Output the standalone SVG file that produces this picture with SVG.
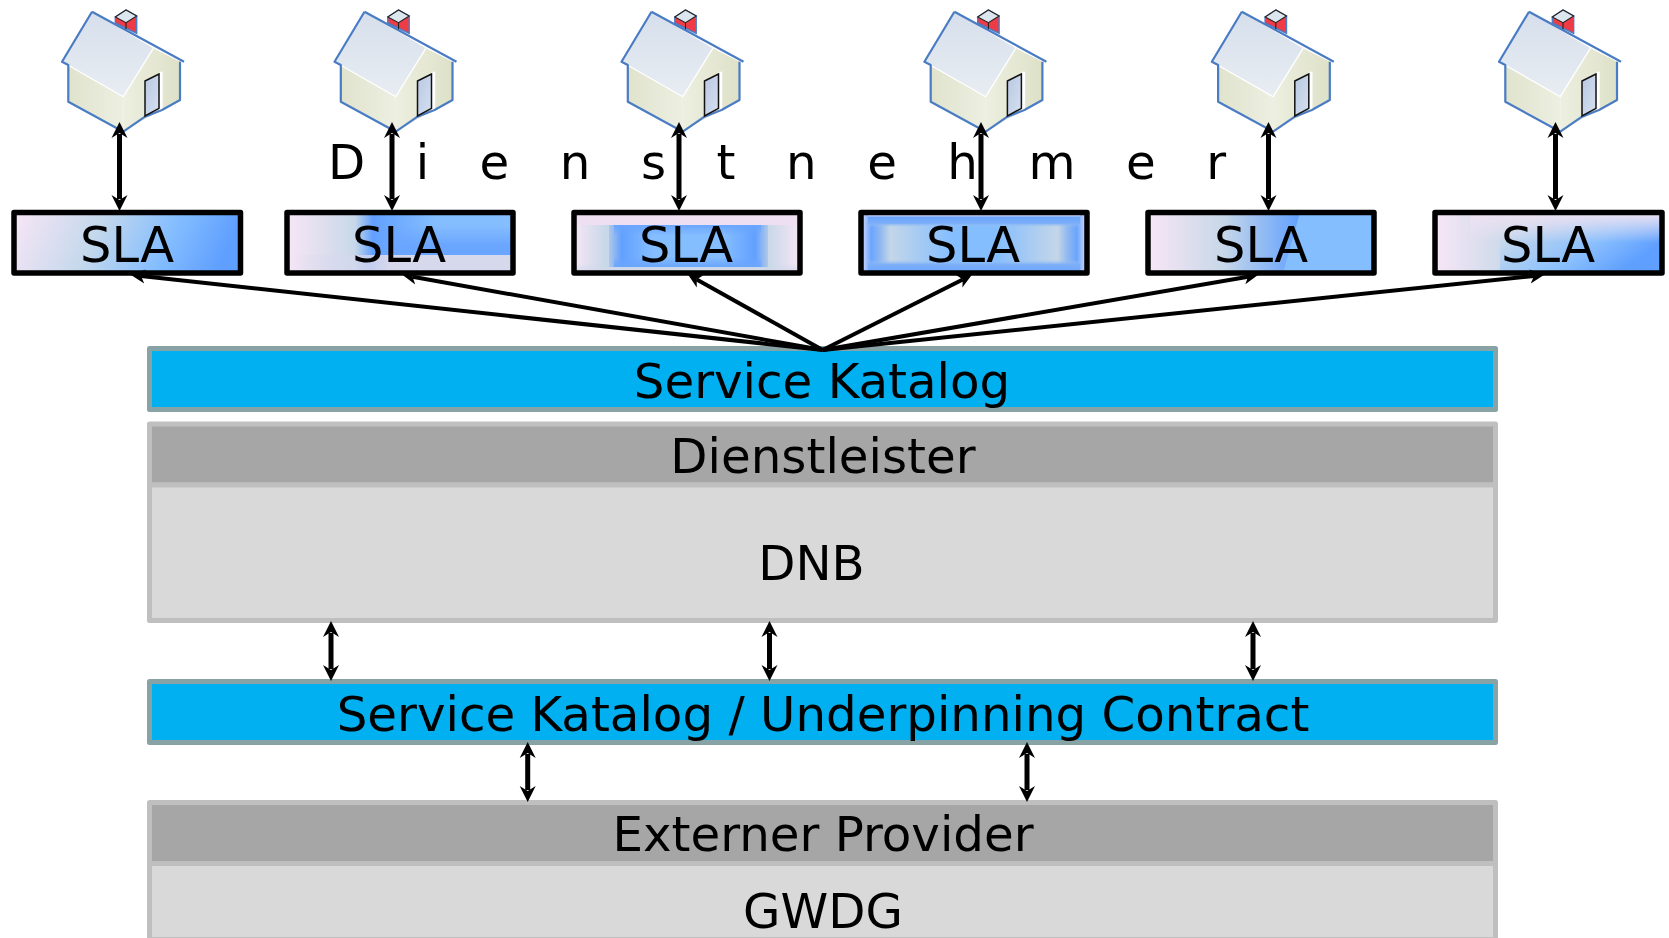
<svg xmlns="http://www.w3.org/2000/svg" width="1669" height="938" viewBox="0 0 1669 938">
<style>
text{font-family:"DejaVu Sans",Verdana,sans-serif;font-size:48.3px;fill:#000;text-anchor:middle}
.sla{font-size:49.5px}
.frame{fill:none;stroke:#000;stroke-width:5.5;stroke-linejoin:round}
.blue{fill:#00B0F0;stroke:#87A3A6;stroke-width:5;stroke-linejoin:round}
.dark{fill:#A6A6A6;stroke:#BFBFBF;stroke-width:5;stroke-linejoin:round}
.light{fill:#D9D9D9;stroke:#BFBFBF;stroke-width:5;stroke-linejoin:round}
.big{fill:none;stroke:#000;stroke-width:5;marker-start:url(#hd);marker-end:url(#hd)}
.fan{fill:none;stroke:#000;stroke-width:4;marker-end:url(#hf)}
</style>
<defs>
<marker id="hd" markerUnits="userSpaceOnUse" markerWidth="16" markerHeight="17" refX="4" refY="8.500" orient="auto-start-reverse"><path d="M16,8.500L0,0.500L5,8.500L0,16.500Z" fill="#000"/></marker>
<marker id="hf" markerUnits="userSpaceOnUse" markerWidth="14" markerHeight="15" refX="4" refY="7.500" orient="auto"><path d="M14,7.500L0,0.500L4,7.500L0,14.500Z" fill="#000"/></marker>
<linearGradient id="g1" x1="0" y1="0" x2="1" y2="0.12"><stop offset="0" stop-color="#F8E6F6"/><stop offset=".4" stop-color="#C4D8EC"/><stop offset=".72" stop-color="#85BEFF"/><stop offset="1" stop-color="#5F9FFF"/></linearGradient>
<linearGradient id="g2" x1="0" x2="1" y1="0" y2="0"><stop offset="0" stop-color="#F8E6F6"/><stop offset=".3" stop-color="#C8D8E8"/><stop offset=".38" stop-color="#62A0FF"/><stop offset=".66" stop-color="#85BEFF"/><stop offset="1" stop-color="#85BEFF"/></linearGradient>
<linearGradient id="g2b" x1="0" x2="0" y1="0" y2="1"><stop offset="0" stop-color="#6AA5FF" stop-opacity="0"/><stop offset=".7" stop-color="#6AA5FF"/><stop offset="1" stop-color="#6AA5FF"/></linearGradient>
<linearGradient id="g2c" x1="0" x2="1" y1="0" y2="0"><stop offset="0" stop-color="#D8D8EE" stop-opacity="0"/><stop offset=".45" stop-color="#D6D8EC"/><stop offset="1" stop-color="#D6D8EC"/></linearGradient>
<linearGradient id="g3" x1="0" x2="1" y1="0" y2="0"><stop offset="0" stop-color="#F6E6F6"/><stop offset=".14" stop-color="#C8D8E8"/><stop offset=".86" stop-color="#C8D8E8"/><stop offset="1" stop-color="#F6E6F6"/></linearGradient>
<linearGradient id="g3b" x1="0" x2="1" y1="0" y2="0"><stop offset="0" stop-color="#B0C8E8"/><stop offset=".08" stop-color="#62A0FF"/><stop offset=".28" stop-color="#85BEFF"/><stop offset=".72" stop-color="#85BEFF"/><stop offset=".92" stop-color="#62A0FF"/><stop offset="1" stop-color="#B0C8E8"/></linearGradient>
<linearGradient id="g3c" x1="0" x2="0" y1="0" y2="1"><stop offset="0" stop-color="#6AA5FF"/><stop offset=".25" stop-color="#6AA5FF" stop-opacity="0"/><stop offset=".75" stop-color="#6AA5FF" stop-opacity="0"/><stop offset="1" stop-color="#6AA5FF"/></linearGradient>
<linearGradient id="g3d" x1="0" x2="0" y1="0" y2="1"><stop offset="0" stop-color="#EEE0F2"/><stop offset=".2" stop-color="#EEE0F2"/><stop offset=".21" stop-color="#C8D8E8" stop-opacity="0"/><stop offset=".85" stop-color="#C8D8E8" stop-opacity="0"/><stop offset="1" stop-color="#DCD8EE"/></linearGradient>
<linearGradient id="g4" x1="0" x2="1" y1="0" y2="0"><stop offset="0" stop-color="#DCDCFA"/><stop offset=".045" stop-color="#6AA5FF"/><stop offset=".085" stop-color="#8FB8F0"/><stop offset=".13" stop-color="#C4D6E8"/><stop offset=".4" stop-color="#85BEFF"/><stop offset=".6" stop-color="#85BEFF"/><stop offset=".87" stop-color="#C4D6E8"/><stop offset=".915" stop-color="#8FB8F0"/><stop offset=".955" stop-color="#6AA5FF"/><stop offset="1" stop-color="#DCDCFA"/></linearGradient>
<linearGradient id="g4b" x1="0" x2="0" y1="0" y2="1"><stop offset=".04" stop-color="#E6E0F6"/><stop offset=".08" stop-color="#6AA5FF"/><stop offset=".18" stop-color="#7DAFF8"/><stop offset=".24" stop-color="#A0C4F0" stop-opacity="0"/><stop offset=".78" stop-color="#A0C4F0" stop-opacity="0"/><stop offset=".86" stop-color="#7DAFF8"/><stop offset="1" stop-color="#6AA5FF"/></linearGradient>
<linearGradient id="g5" x1="0" x2="1" y1="0" y2="0"><stop offset="0" stop-color="#F8E6F6"/><stop offset=".33" stop-color="#C8D8E8"/><stop offset=".68" stop-color="#5F9FFF"/><stop offset="1" stop-color="#5F9FFF"/></linearGradient>
<linearGradient id="g6" x1="0" x2="1" y1="0" y2="0"><stop offset="0" stop-color="#F8E6F6"/><stop offset=".3" stop-color="#CCDAEA"/><stop offset="1" stop-color="#BCD2EC"/></linearGradient>
<linearGradient id="g6b" gradientUnits="userSpaceOnUse" x1="1545" y1="205" x2="1600" y2="285"><stop offset="0" stop-color="#85BEFF" stop-opacity="0"/><stop offset=".6" stop-color="#85BEFF" stop-opacity=".9"/><stop offset="1" stop-color="#5F9FFF"/></linearGradient>
<linearGradient id="g6c" x1="0" x2="0" y1="0" y2="1"><stop offset="0" stop-color="#EEE2F2"/><stop offset="1" stop-color="#EEE2F2" stop-opacity="0"/></linearGradient>
<linearGradient id="roof" x1="0" x2="0" y1="0" y2="1"><stop offset="0" stop-color="#D6DFEC"/><stop offset="1" stop-color="#E8EDF2"/></linearGradient>
<linearGradient id="wallL" x1="0" x2="1" y1="0" y2="0"><stop offset="0" stop-color="#E0E3CC"/><stop offset="1" stop-color="#EDEFE2"/></linearGradient>
<linearGradient id="wallR" x1="0" x2="1" y1="0" y2="0"><stop offset="0" stop-color="#EDEFE0"/><stop offset="1" stop-color="#DEE1C8"/></linearGradient>
<linearGradient id="door" x1="0" x2="1" y1="0" y2="1"><stop offset="0" stop-color="#B8C8E2"/><stop offset="1" stop-color="#D6E0F0"/></linearGradient>
<g id="house">
<path d="M68.300 65L123.300 96.700L123.300 131.700L68.300 101.700Z" fill="url(#wallL)"/>
<path d="M123.300 96.700L153.300 48.300L180 61.700L180 100L162 110L145 119L123.300 131.700Z" fill="url(#wallR)"/>
<path d="M92 11.700L153.300 48.300L123.300 96.700L62 61.700Z" fill="url(#roof)"/>
<path d="M62 61.700L123.300 96.700L153.300 48.300" fill="none" stroke="#fff" stroke-width="1.300"/>
<path d="M92 11.700L184 61.700M92 11.700L62 61.700L68.300 65L68.300 101.700L123.300 131.700L145 116.700L162 110L180 100L180 61.700" fill="none" stroke="#4A7CC4" stroke-width="2.200" stroke-linejoin="round"/>
<path d="M159 71.700L162.700 71.700L162.700 108.300L159 110Z" fill="#fff"/>
<path d="M145 81L159 74L159 108.300L145 116Z" fill="url(#door)" stroke="#111" stroke-width="1.500"/>
<path d="M115.300 17L126 10L136.700 16L136.700 33.300L115.300 23Z" fill="#EE3B45" stroke="#4A7CC4" stroke-width="1.400"/>
<path d="M115.300 17L126 10L136.700 16L126 22.700Z" fill="#DCE6EE" stroke="#222" stroke-width="1.100"/>
<path d="M126 22.700L126 29.300" stroke="#222" stroke-width="1.100" fill="none"/>
</g>
</defs>
<rect width="1669" height="938" fill="#fff"/>
<g id="houses">
<use id="house-1" href="#house"/>
<use id="house-2" href="#house" x="272.500"/>
<use id="house-3" href="#house" x="559.500"/>
<use id="house-4" href="#house" x="862.400"/>
<use id="house-5" href="#house" x="1149.800"/>
<use id="house-6" href="#house" x="1437"/>
</g>
<g id="dienstnehmer"><text x="328" y="179" style="text-anchor:start;letter-spacing:50.500px">Dienstnehmer</text></g>
<g id="sla-1"><rect x="14" y="212.500" width="226.500" height="60.500" fill="url(#g1)"/><rect x="14" y="212.500" width="226.500" height="60.500" class="frame"/><text class="sla" x="127" y="262">SLA</text></g>
<g id="sla-2"><rect x="287" y="212.500" width="226" height="60.500" fill="url(#g2)"/><rect x="392" y="225" width="121" height="30" fill="url(#g2b)"/><rect x="287" y="255" width="226" height="18" fill="url(#g2c)"/><rect x="287" y="212.500" width="226" height="60.500" class="frame"/><text class="sla" x="399" y="262">SLA</text></g>
<g id="sla-3"><rect x="574" y="212.500" width="226" height="60.500" fill="url(#g3)"/><rect x="574" y="212.500" width="226" height="60.500" fill="url(#g3d)"/><rect x="609" y="225" width="159" height="42" fill="url(#g3b)"/><rect x="614" y="225" width="147" height="42" fill="url(#g3c)"/><rect x="574" y="212.500" width="226" height="60.500" class="frame"/><text class="sla" x="686" y="262">SLA</text></g>
<g id="sla-4"><rect x="861" y="212.500" width="226" height="60.500" fill="url(#g4)"/><rect x="868" y="212.500" width="212" height="60.500" fill="url(#g4b)"/><rect x="861" y="212.500" width="226" height="60.500" class="frame"/><text class="sla" x="973" y="262">SLA</text></g>
<g id="sla-5"><rect x="1148" y="212.500" width="226" height="60.500" fill="url(#g5)"/><path d="M1300 212.500L1283 273L1374 273L1374 212.500Z" fill="#85BEFF"/><rect x="1148" y="212.500" width="226" height="60.500" class="frame"/><text class="sla" x="1261" y="262">SLA</text></g>
<g id="sla-6"><rect x="1435" y="212.500" width="227" height="60.500" fill="url(#g6)"/><rect x="1500" y="212.500" width="162" height="60.500" fill="url(#g6b)"/><rect x="1470" y="212.500" width="192" height="30" fill="url(#g6c)"/><rect x="1435" y="212.500" width="227" height="60.500" class="frame"/><text class="sla" x="1548" y="262">SLA</text></g>
<g id="service-katalog"><rect x="149.500" y="348.500" width="1346" height="61" class="blue"/><text x="822" y="398">Service Katalog</text></g>
<g id="dienstleister"><rect x="149.500" y="424" width="1346" height="61" class="dark"/><text x="823" y="473">Dienstleister</text></g>
<g id="dnb"><rect x="149.500" y="485" width="1346" height="135.500" class="light"/><text x="811.500" y="580">DNB</text></g>
<g id="service-katalog-uc"><rect x="149.500" y="681.500" width="1346" height="61" class="blue"/><text x="823" y="731">Service Katalog / Underpinning Contract</text></g>
<g id="externer-provider"><rect x="149.500" y="802.500" width="1346" height="61" class="dark"/><text x="823" y="851">Externer Provider</text></g>
<g id="gwdg"><rect x="149.500" y="863.500" width="1346" height="76" class="light"/><text x="823" y="928">GWDG</text></g>
<g id="connectors">
<path class="big" d="M119.500 134V199"/>
<path class="big" d="M392 134V199"/>
<path class="big" d="M679 134V199"/>
<path class="big" d="M981 134V199"/>
<path class="big" d="M1268.500 134V199"/>
<path class="big" d="M1555.500 134V199"/>
<path class="fan" d="M822.700 350L141 276.100"/>
<path class="fan" d="M822.700 350L412.500 276.800"/>
<path class="fan" d="M822.700 350L696.700 279.400"/>
<path class="fan" d="M822.700 350L962.800 279.500"/>
<path class="fan" d="M822.700 350L1248.100 276.700"/>
<path class="fan" d="M822.700 350L1534 276"/>
<path class="big" d="M331 633V669"/>
<path class="big" d="M769.500 633V669"/>
<path class="big" d="M1253 633V669"/>
<path class="big" d="M527.700 754V790"/>
<path class="big" d="M1027 754V790"/>
</g>
</svg>
